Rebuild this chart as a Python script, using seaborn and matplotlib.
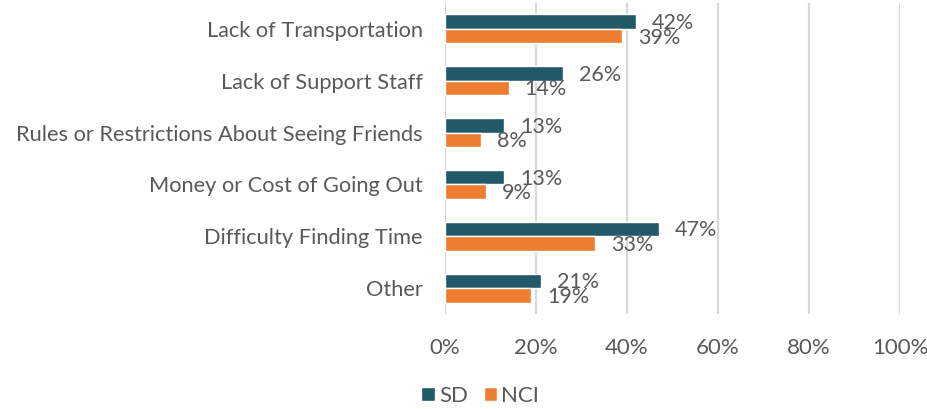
import matplotlib
matplotlib.use("Agg")
import matplotlib.pyplot as plt
import seaborn as sns
import pandas as pd
from matplotlib.patches import Patch

categories = [
    "Lack of Transportation",
    "Lack of Support Staff",
    "Rules or Restrictions About Seeing Friends",
    "Money or Cost of Going Out",
    "Difficulty Finding Time",
    "Other",
]
sd_values = [42, 26, 13, 13, 47, 21]
nci_values = [39, 14, 8, 9, 33, 19]
series_names = ["SD", "NCI"]
x_ticks = [0, 20, 40, 60, 80, 100]

colors = {"SD": "#215968", "NCI": "#ED7D31"}
text_color = "#595959"

df = pd.DataFrame({
    "category": categories * 2,
    "value": sd_values + nci_values,
    "series": ["SD"] * len(categories) + ["NCI"] * len(categories),
})

sns.set_theme(style="white")
plt.rcParams["font.family"] = ["Lato", "DejaVu Sans"]

fig = plt.figure(figsize=(9.28, 4.09), dpi=100)
ax = fig.add_axes([0.4795, 0.232, 0.4905, 0.7606])

sns.barplot(data=df, y="category", x="value", hue="series", order=categories,
            hue_order=series_names, palette=colors, orient="h", width=0.56,
            saturation=1, ax=ax, legend=False)

ax.set_xlim(0, 100)
ax.set_ylim(len(categories) - 0.5, -0.5)
ax.set_xticks(x_ticks)
ax.set_xticklabels([f"{t}%" for t in x_ticks])
ax.grid(axis="x", color="#D9D9D9", linewidth=1.6)
ax.set_axisbelow(True)
for s in ax.spines.values():
    s.set_visible(False)
ax.set_xlabel("")
ax.set_ylabel("")
ax.tick_params(axis="x", length=0, pad=17, labelsize=16, labelcolor=text_color)
ax.tick_params(axis="y", length=0, pad=16, labelsize=15.7, labelcolor=text_color)

for container in ax.containers:
    for bar in container:
        w = bar.get_width()
        yc = bar.get_y() + bar.get_height() / 2
        ax.annotate(f"{w:.0f}%", xy=(w, yc), xytext=(11.5, -1),
                    textcoords="offset points", ha="left", va="center",
                    fontsize=15.5, color=text_color)

handles = [Patch(facecolor=colors[n], label=n) for n in series_names]
fig.legend(handles=handles, loc="center left", bbox_to_anchor=(0.454, 0.032),
           ncol=2, frameon=False, fontsize=16, labelcolor=text_color,
           handlelength=0.6, handleheight=0.6, handletextpad=0.2,
           columnspacing=0.7, borderaxespad=0, borderpad=0)

fig.savefig("out.png", dpi=100)
